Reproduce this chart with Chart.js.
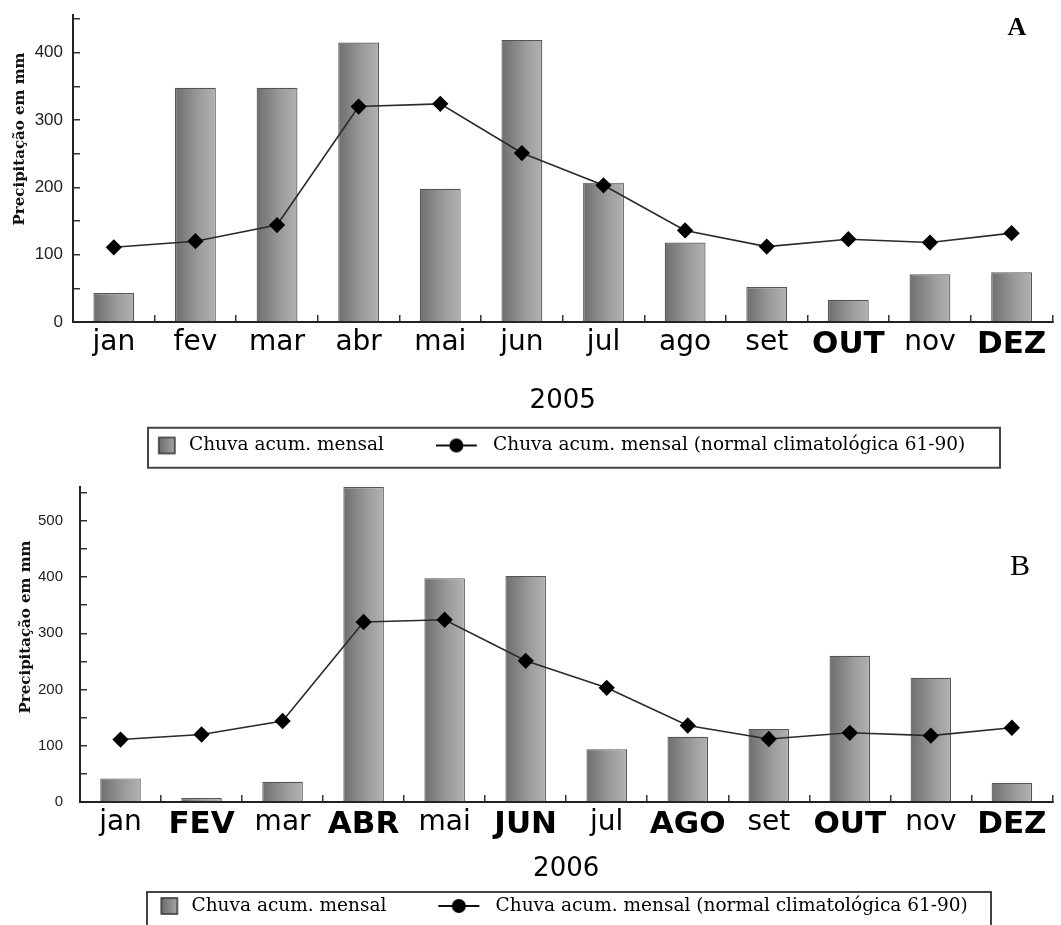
<!DOCTYPE html>
<html><head><meta charset="utf-8">
<script src="https://cdn.jsdelivr.net/npm/chart.js@4.4.1/dist/chart.umd.min.js"></script>
<style>
html,body{margin:0;padding:0;background:#fff;overflow:hidden;width:1061px;height:925px;}
#wa{position:absolute;left:0;top:0;width:1061px;height:474px;}
#wb{position:absolute;left:0;top:474px;width:1061px;height:461px;}
</style></head><body>
<div id="wa"><canvas id="ca"></canvas></div>
<div id="wb"><canvas id="cb"></canvas></div>
<script>
// ---- data ----
const months2005 = ['jan','fev','mar','abr','mai','jun','jul','ago','set','OUT','nov','DEZ'];
const months2006 = ['jan','FEV','mar','ABR','mai','JUN','jul','AGO','set','OUT','nov','DEZ'];
const rain2005 = [43,348,348,415,198,419,207,118,52,33,71,74];
const rain2006 = [42,7,36,560,398,402,94,116,130,260,221,34];
const normal6190 = [111,120,144,320,324,251,203,136,112,123,118,132];
const seriesNames = ['Chuva acum. mensal','Chuva acum. mensal (normal climatológica 61-90)'];
const yTitle = 'Precipitação em mm';
const yearA = '2005', yearB = '2006';

// ---- helpers ----
function barFill(ctx){
  const chart = ctx.chart, xs = chart.scales && chart.scales.x;
  if (!xs || !chart.chartArea || ctx.type !== 'data') return '#8c8c8c';
  const cx = xs.getPixelForValue(ctx.dataIndex);
  const half = xs.width / chart.data.labels.length * 0.25;
  const g = chart.ctx.createLinearGradient(cx - half, 0, cx + half, 0);
  g.addColorStop(0, '#6e6e6e');
  g.addColorStop(0.6, '#9c9c9c');
  g.addColorStop(1, '#b2b2b2');
  return g;
}
const LW = 90;
function legendBarImg(){
  const c = document.createElement('canvas'); c.width = LW; c.height = 20;
  const g = c.getContext('2d');
  const gr = g.createLinearGradient(LW-21, 0, LW-4, 0);
  gr.addColorStop(0,'#6c6c6c'); gr.addColorStop(1,'#a8a8a8');
  g.fillStyle = gr; g.fillRect(LW-21, 2, 16, 16);
  g.strokeStyle = '#333'; g.lineWidth = 1.5; g.strokeRect(LW-21, 2, 16, 16);
  return c;
}
function legendLineImg(){
  const c = document.createElement('canvas'); c.width = LW; c.height = 20;
  const g = c.getContext('2d');
  g.strokeStyle = '#111'; g.lineWidth = 2;
  g.beginPath(); g.moveTo(LW-48, 10); g.lineTo(LW-7, 10); g.stroke();
  g.fillStyle = '#000'; g.beginPath(); g.arc(LW-27.5, 10, 7, 0, Math.PI*2); g.fill();
  return c;
}
const imgBar = legendBarImg(), imgLine = legendLineImg();

const deco = {
  id: 'deco',
  afterDraw(chart, args, o){
    const c = chart.ctx;
    c.save();
    c.translate(o.tx, o.ty); c.rotate(-Math.PI/2);
    c.font = 'bold 15px "DejaVu Serif"'; c.fillStyle = '#111';
    c.textAlign = 'center'; c.textBaseline = 'middle';
    c.fillText(yTitle, 0, 0);
    c.restore();
    c.save();
    c.font = o.letterFont; c.fillStyle = '#000';
    c.textAlign = 'center'; c.textBaseline = 'middle';
    c.fillText(o.letter, o.lx, o.ly);
    c.restore();
    const lg = chart.legend;
    c.save(); c.strokeStyle = '#444'; c.lineWidth = 2;
    c.strokeRect(o.bl, lg.top + o.bt, o.br - o.bl, o.bh);
    c.restore();
  }
};

function makeChart(id, labels, rain, boldSet, cfg){
  return new Chart(document.getElementById(id), {
    type: 'bar',
    data: {
      labels: labels,
      datasets: [
        { type:'line', label: seriesNames[1], data: normal6190, order: 0,
          borderColor:'#2a2a2a', borderWidth:1.6, pointStyle:'rectRot', pointRadius:7,
          pointBackgroundColor:'#000', pointBorderColor:'#000', tension:0 },
        { type:'bar', label: seriesNames[0], data: rain, order: 1,
          backgroundColor: barFill, borderColor:'#555', borderWidth:1.2,
          barPercentage:0.5, categoryPercentage:1.0 }
      ]
    },
    options: {
      responsive:true, maintainAspectRatio:false, animation:false, events:[],
      layout:{ padding:{ top:cfg.padTop, right:cfg.padRight, left:0, bottom:cfg.padBottom } },
      scales: {
        x: {
          type:'category', offset:true,
          grid:{ offset:true, drawOnChartArea:false, drawTicks:true, tickLength:-7, color:'#333', lineWidth:1.5 },
          border:{ color:'#222', width:2 },
          ticks:{ autoSkip:false, maxRotation:0, minRotation:0, color:'#000', padding:11,
            font:(ctx)=>{ const lab = labels[ctx.index];
              return boldSet.includes(lab) ? {family:'DejaVu Sans', size:31, weight:'bold'} : {family:'DejaVu Sans', size:28, weight:'normal'}; } },
          title:{ display:true, text:cfg.year, color:'#000', font:{family:'DejaVu Sans', size:26}, padding:{top:0, bottom:cfg.titlePad} },
          afterFit:(s)=>{ s.height = cfg.xH; s.paddingLeft = 0; s.paddingRight = 0; }
        },
        y: {
          type:'linear', min:0, max:cfg.ymax,
          grid:{ drawOnChartArea:false, drawTicks:true, tickLength:-7, color:'#333', lineWidth:1.5 },
          border:{ color:'#222', width:2 },
          ticks:{ stepSize:50, includeBounds:false, color:'#222', padding:cfg.yPad,
            font:{family:'Liberation Sans', size:cfg.yFont},
            callback:(v)=> (v % 100 === 0 ? String(v) : '') },
          afterFit:(s)=>{ s.width = cfg.yW; s.paddingTop = 0; s.paddingBottom = 0; }
        }
      },
      plugins: {
        tooltip:{enabled:false},
        legend:{ display:true, position:'bottom', align:'center',
          labels:{ usePointStyle:true, pointStyleWidth:LW, padding:10, color:'#111',
            font:{family:'DejaVu Serif', size:18.5},
            generateLabels:()=>[
              {text:seriesNames[0], pointStyle:imgBar, fillStyle:'#888', strokeStyle:'#333', lineWidth:0, hidden:false, datasetIndex:1},
              {text:seriesNames[1], pointStyle:imgLine, fillStyle:'#000', strokeStyle:'#000', lineWidth:0, hidden:false, datasetIndex:0}
            ] } },
        deco: cfg.deco
      }
    },
    plugins:[deco]
  });
}

makeChart('ca', months2005, rain2005, ['OUT','DEZ'], {
  padTop:15, padRight:6, padBottom:9.25, ymax:456, xH:104.25, titlePad:9, yW:73, yPad:17, yFont:17, year:yearA,
  deco:{ tx:20, ty:139, letter:'A', letterFont:'bold 26px "Liberation Serif"', lx:1017, ly:28, bl:148, br:1000, bt:1.5, bh:40 }
});
makeChart('cb', months2006, rain2006, ['FEV','ABR','JUN','AGO','OUT','DEZ'], {
  padTop:13, padRight:1, padBottom:9.75, ymax:560, xH:84.75, titlePad:2, yW:80, yPad:24, yFont:15, year:yearB,
  deco:{ tx:26, ty:153, letter:'B', letterFont:'30px "Liberation Serif"', lx:1020, ly:93, bl:147, br:991, bt:5.25, bh:40 }
});
</script>
</body></html>
